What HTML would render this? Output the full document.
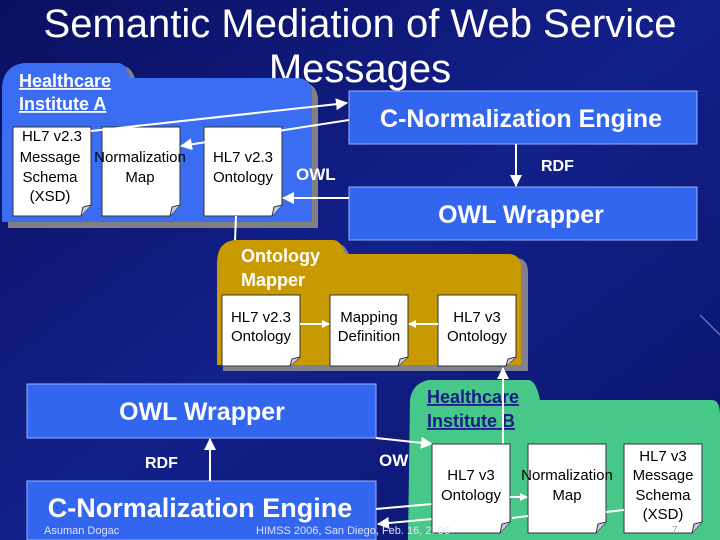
<!DOCTYPE html>
<html><head><meta charset="utf-8"><style>
html,body{margin:0;padding:0;width:720px;height:540px;overflow:hidden;background:#0c1470}
svg{display:block}
text{font-family:"Liberation Sans",Arial,sans-serif}
</style></head><body>
<svg width="720" height="540" viewBox="0 0 720 540" xmlns="http://www.w3.org/2000/svg">
<defs>
<linearGradient id="bg" x1="0" y1="0" x2="1" y2="1">
<stop offset="0" stop-color="#0a1060"/><stop offset="0.5" stop-color="#12208a"/><stop offset="1" stop-color="#0a1468"/>
</linearGradient>
<marker id="ah" markerWidth="8" markerHeight="8" refX="7" refY="4" orient="auto" markerUnits="userSpaceOnUse"><path d="M0,0 L8,4 L0,8 z" fill="#fff"/></marker>
<marker id="ah2" markerWidth="12" markerHeight="12" refX="11" refY="6" orient="auto" markerUnits="userSpaceOnUse"><path d="M0,0 L12,6 L0,12 z" fill="#fff"/></marker>
<g id="doc"><path d="M0,0 H78 V78 L68,89 H0 Z" fill="#fff" stroke="#333" stroke-width="1"/><path d="M68,89 L70,80 L78,78" fill="#c8c8e8" stroke="#333" stroke-width="1"/></g>
<g id="doc2"><path d="M0,0 H78 V62 L68,71 H0 Z" fill="#fff" stroke="#333" stroke-width="1"/><path d="M68,71 L70,64 L78,62" fill="#c8c8e8" stroke="#333" stroke-width="1"/></g>
</defs>
<rect width="720" height="540" fill="url(#bg)"/>
<line x1="700" y1="315" x2="720" y2="335" stroke="#8090d0" stroke-width="1"/>

<text x="360" y="37" font-size="40" fill="#fff" text-anchor="middle">Semantic Mediation of Web Service</text>
<text x="360" y="82" font-size="40" fill="#fff" text-anchor="middle">Messages</text>

<path d="M8,94 Q8,70 30,66 H122 Q132,66 136,82 H300 Q316,82 318,98 V228 H8 Z" fill="#808080"/>
<path d="M2,90 Q2,66 24,63 H118 Q126,63 130,78 H296 Q311,78 312,92 V222 H2 Z" fill="#3a6df2"/>
<text x="19" y="87" font-size="18" font-weight="bold" fill="#fff" text-decoration="underline">Healthcare</text>
<text x="19" y="110" font-size="18" font-weight="bold" fill="#fff" text-decoration="underline">Institute A</text>
<use href="#doc" x="13" y="127"/>
<use href="#doc" x="102" y="127"/>
<use href="#doc" x="204" y="127"/>
<g font-size="15" fill="#000" text-anchor="middle">
<text x="52" y="141">HL7 v2.3</text><text x="50" y="162">Message</text><text x="50" y="182">Schema</text><text x="50" y="201">(XSD)</text>
<text x="140" y="162">Normalization</text><text x="140" y="182">Map</text>
<text x="243" y="162">HL7 v2.3</text><text x="243" y="182">Ontology</text>
</g>

<rect x="349" y="91" width="348" height="53" fill="#3366ee" stroke="#9ab0ff" stroke-width="1"/>
<text x="521" y="127" font-size="25" font-weight="bold" fill="#fff" text-anchor="middle">C-Normalization Engine</text>
<rect x="349" y="187" width="348" height="53" fill="#3366ee" stroke="#9ab0ff" stroke-width="1"/>
<text x="521" y="223" font-size="25" font-weight="bold" fill="#fff" text-anchor="middle">OWL Wrapper</text>
<line x1="516" y1="144" x2="516" y2="186" stroke="#fff" stroke-width="2" marker-end="url(#ah2)"/>
<text x="541" y="171" font-size="16" font-weight="bold" fill="#fff">RDF</text>
<text x="296" y="180" font-size="17" font-weight="bold" fill="#fff">OWL</text>
<line x1="91" y1="131" x2="347" y2="103" stroke="#fff" stroke-width="2" marker-end="url(#ah2)"/>
<line x1="349" y1="120" x2="181" y2="146" stroke="#fff" stroke-width="2" marker-end="url(#ah2)"/>
<line x1="349" y1="198" x2="283" y2="198" stroke="#fff" stroke-width="2" marker-end="url(#ah2)"/>
<line x1="236" y1="216" x2="233" y2="292" stroke="#fff" stroke-width="2" marker-end="url(#ah2)"/>

<path d="M223,268 Q223,246 242,244 H338 Q346,244 350,258 H515 Q528,258 528,272 V371 H223 Z" fill="#808090"/>
<path d="M217,263 Q217,241 236,240 H333 Q341,240 345,254 H508 Q521,254 521,268 V365 H217 Z" fill="#c89a00"/>
<text x="241" y="262" font-size="18" font-weight="bold" fill="#fff">Ontology</text>
<text x="241" y="286" font-size="18" font-weight="bold" fill="#fff">Mapper</text>
<use href="#doc2" x="222" y="295"/>
<use href="#doc2" x="330" y="295"/>
<use href="#doc2" x="438" y="295"/>
<g font-size="15" fill="#000" text-anchor="middle">
<text x="261" y="322">HL7 v2.3</text><text x="261" y="341">Ontology</text>
<text x="369" y="322">Mapping</text><text x="369" y="341">Definition</text>
<text x="477" y="322">HL7 v3</text><text x="477" y="341">Ontology</text>
</g>
<line x1="300" y1="324" x2="329" y2="324" stroke="#fff" stroke-width="2" marker-end="url(#ah)"/>
<line x1="438" y1="324" x2="409" y2="324" stroke="#fff" stroke-width="2" marker-end="url(#ah)"/>

<rect x="27" y="384" width="349" height="54" fill="#3366ee" stroke="#9ab0ff" stroke-width="1"/>
<text x="202" y="420" font-size="25" font-weight="bold" fill="#fff" text-anchor="middle">OWL Wrapper</text>
<rect x="27" y="481" width="349" height="59" fill="#3366ee" stroke="#9ab0ff" stroke-width="1"/>
<text x="200" y="517" font-size="27" font-weight="bold" fill="#fff" text-anchor="middle">C-Normalization Engine</text>
<line x1="210" y1="481" x2="210" y2="439" stroke="#fff" stroke-width="2" marker-end="url(#ah2)"/>
<text x="145" y="468" font-size="16" font-weight="bold" fill="#fff">RDF</text>
<text x="379" y="466" font-size="17" font-weight="bold" fill="#fff">OWL</text>

<path d="M410,400 Q412,384 428,380 H528 Q536,380 540,400 H712 Q720,400 720,415 V540 H408 Z" fill="#48c888"/>
<text x="427" y="403" font-size="18" font-weight="bold" fill="#1a1a8a" text-decoration="underline">Healthcare</text>
<text x="427" y="427" font-size="18" font-weight="bold" fill="#1a1a8a" text-decoration="underline">Institute B</text>
<line x1="376" y1="438" x2="432" y2="444" stroke="#fff" stroke-width="2" marker-end="url(#ah2)"/>
<line x1="376" y1="509" x2="432" y2="504" stroke="#fff" stroke-width="2"/>
<line x1="432" y1="519" x2="378" y2="524" stroke="#fff" stroke-width="2" marker-end="url(#ah2)"/>
<line x1="503" y1="444" x2="503" y2="368" stroke="#fff" stroke-width="2" marker-end="url(#ah2)"/>
<use href="#doc" x="432" y="444"/>
<use href="#doc" x="528" y="444"/>
<use href="#doc" x="624" y="444"/>
<line x1="510" y1="497" x2="527" y2="497" stroke="#fff" stroke-width="2" marker-end="url(#ah)"/>
<line x1="606" y1="512" x2="624" y2="510" stroke="#fff" stroke-width="2"/>
<line x1="528" y1="516" x2="512" y2="518" stroke="#fff" stroke-width="2"/>
<g font-size="15" fill="#000" text-anchor="middle">
<text x="471" y="480">HL7 v3</text><text x="471" y="500">Ontology</text>
<text x="567" y="480">Normalization</text><text x="567" y="500">Map</text>
<text x="663" y="461">HL7 v3</text><text x="663" y="480">Message</text><text x="663" y="500">Schema</text><text x="663" y="519">(XSD)</text>
</g>

<text x="44" y="534" font-size="11" fill="#e0e0ff">Asuman Dogac</text>
<text x="256" y="534" font-size="11" fill="#e0e0ff">HIMSS 2006, San Diego, Feb. 16, 2. 06</text>
<text x="672" y="533" font-size="10" fill="#a0a0a0">7</text>
</svg>
</body></html>
